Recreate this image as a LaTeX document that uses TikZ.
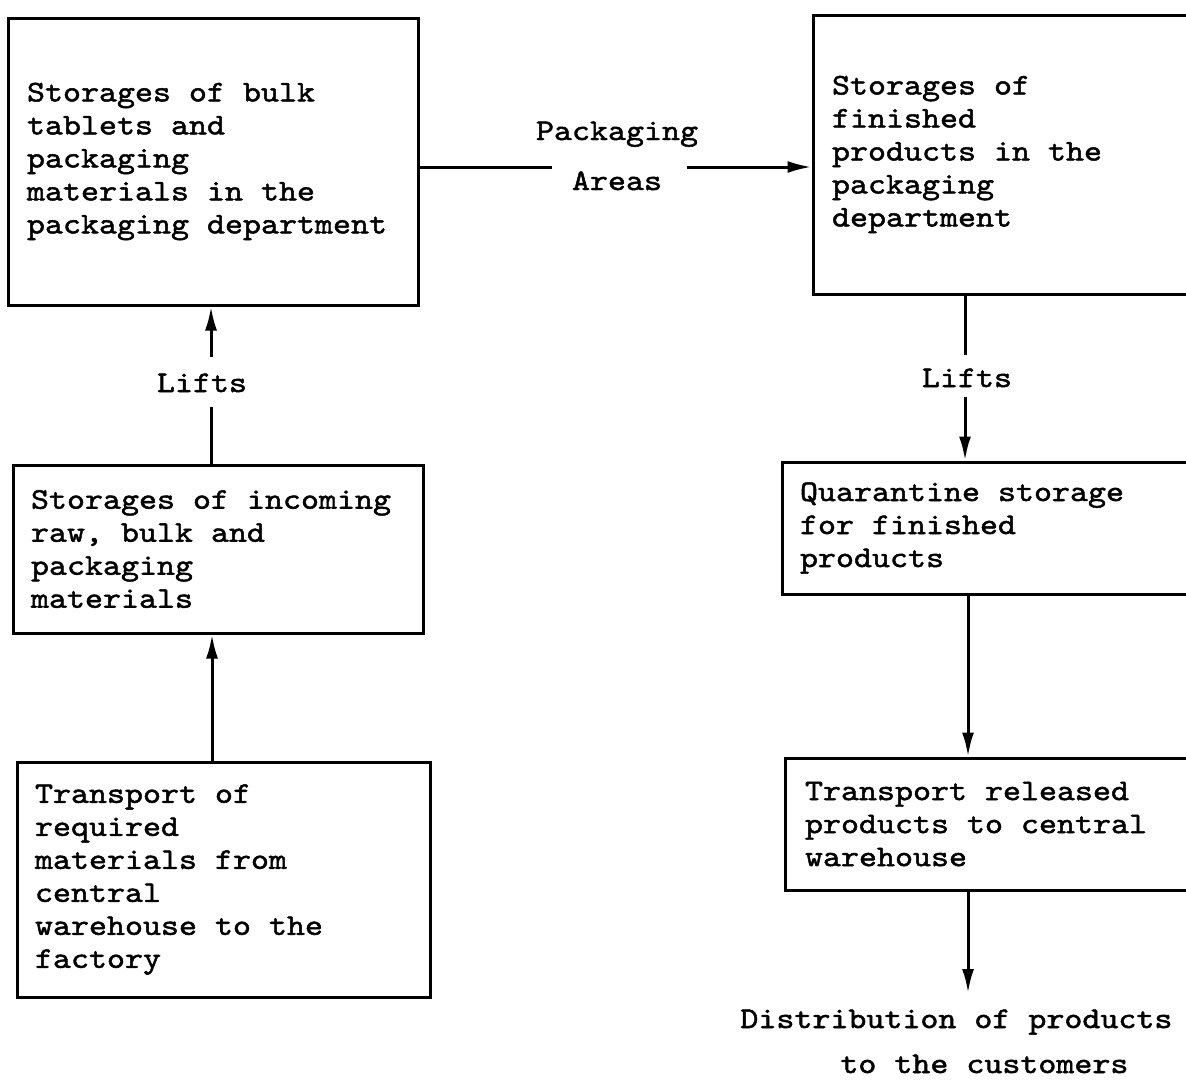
\documentclass[tikz,border=0pt]{standalone}
\usepackage{fontspec}
\setmainfont{lmmono10-regular.otf}[FakeStretch=1.143,FakeBold=1.6,WordSpace={1,0,0}]
\usetikzlibrary{arrows.meta}
\tikzset{
  txt/.style={font=\fontsize{15pt}{16.5pt}\selectfont,
    execute at begin node={\spaceskip=9pt\xspaceskip=9pt\relax}},
  box/.style={draw, line width=1.5pt, txt, align=left, inner ysep=0pt},
  lbl/.style={txt, anchor=base, inner sep=0pt},
  conn/.style={line width=1.5pt},
  arr/.style={conn, -{Latex[length=12pt,width=6pt]}}
}
\begin{document}
\begin{tikzpicture}[x=0.5pt,y=-0.5pt]
\useasboundingbox (0,0) rectangle (1186,1082);
\clip (0,0) rectangle (1186,1082);
% boxes
\node[box, inner xsep=9.5pt, text width=186pt, minimum height=143.5pt] (A) at (213,161.5)
  {Storages of bulk\\tablets and\\packaging\\materials in the\\packaging department};
\node[box, inner xsep=9.5pt, text width=189.5pt, minimum height=139.5pt] (B) at (1021.5,154.5)
  {Storages of\\finished\\products in the\\packaging\\department};
\node[box, inner xsep=9pt, text width=187pt, minimum height=84pt] (C) at (218,549)
  {Storages of incoming\\raw, bulk and\\packaging\\materials};
\node[box, inner xsep=9pt, text width=188.5pt, minimum height=117.5pt] (D) at (223.5,879.5)
  {Transport of\\required\\materials from\\central\\warehouse to the\\factory};
\node[box, inner xsep=9pt, text width=206pt, minimum height=66pt] (E) at (1006,528)
  {Quarantine storage\\for finished\\products};
\node[box, inner xsep=10pt, text width=202.5pt, minimum height=66pt] (F) at (1007.5,824)
  {Transport released\\products to central\\warehouse};
% labels
\node[lbl] (pk1) at (617,140) {Packaging};
\node[lbl] (pk2) at (617,190) {Areas};
\node[lbl] (liftL) at (202,392) {Lifts};
\node[lbl] (liftR) at (967,387) {Lifts};
\node[lbl, anchor=base west] (dist1) at (740,1028) {Distribution of products};
\node[lbl, anchor=base west] (dist2) at (840,1073) {to the customers};
% helper coordinates
\coordinate (g1) at (552,167);
\coordinate (g2) at (687,167);
\coordinate (l1) at (211,407);
\coordinate (l2) at (211,357);
\coordinate (r1) at (965,355);
\coordinate (r2) at (965,397);
\coordinate (cd) at (212,0);
\coordinate (ef) at (968,0);
\coordinate (fd) at (968,993);
% connectors
\draw[conn] (A.east |- g1) -- (g1);
\draw[arr] (g2) -- (B.west |- g2);
\draw[conn] (C.north -| l1) -- (l1);
\draw[arr] (l2) -- (A.south -| l2);
\draw[conn] (B.south -| r1) -- (r1);
\draw[arr] (r2) -- (E.north -| r2);
\draw[arr] (D.north -| cd) -- (C.south -| cd);
\draw[arr] (E.south -| ef) -- (F.north -| ef);
\draw[arr] (F.south -| fd) -- (fd);
\end{tikzpicture}
\end{document}
